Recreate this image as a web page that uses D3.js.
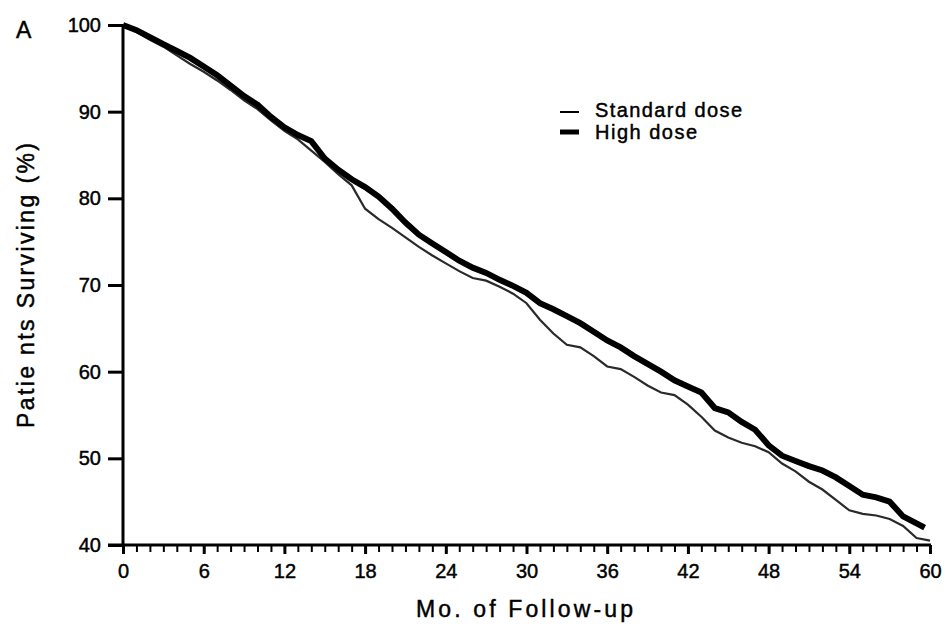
<!DOCTYPE html>
<html>
<head>
<meta charset="utf-8">
<script src="https://cdn.jsdelivr.net/npm/d3@7"></script>
<style>
  body { margin: 0; background: #fff; }
  text { font-family: "Liberation Sans", Arial, sans-serif; fill: #000; stroke: #000; stroke-width: 0.45px; }
</style>
</head>
<body>
<svg id="chart" width="946" height="627"></svg>
<script>
// survival curves (months, % surviving)
const monthsStandard = [0, 1, 2, 3, 4, 5, 6, 7, 8, 9, 10, 11, 12, 13, 14, 15, 16, 17, 18, 19, 20,
  21, 22, 23, 24, 25, 26, 27, 28, 29, 30, 31, 32, 33, 34, 35, 36, 37, 38, 39, 40,
  41, 42, 43, 44, 45, 46, 47, 48, 49, 50, 51, 52, 53, 54, 55, 56, 57, 58, 59, 60];
const standardDose = [100, 99.2, 98.3, 97.5, 96.5, 95.5, 94.6, 93.6, 92.5, 91.3, 90.3, 89.0, 87.8, 86.8, 85.5, 84.2, 82.8, 81.5, 78.8, 77.6, 76.6,
  75.5, 74.4, 73.4, 72.5, 71.6, 70.8, 70.5, 69.8, 69.0, 67.9, 66.0, 64.4, 63.1, 62.8, 61.8, 60.6, 60.3, 59.4, 58.4, 57.6,
  57.3, 56.2, 54.8, 53.2, 52.4, 51.8, 51.4, 50.7, 49.4, 48.5, 47.3, 46.4, 45.2, 44.0, 43.6, 43.4, 43.0, 42.2, 40.8, 40.5];

const monthsHigh = [0, 1, 2, 3, 4, 5, 6, 7, 8, 9, 10, 11, 12, 13, 14, 15, 16, 17, 18, 19, 20,
  21, 22, 23, 24, 25, 26, 27, 28, 29, 30, 31, 32, 33, 34, 35, 36, 37, 38, 39, 40,
  41, 42, 43, 44, 45, 46, 47, 48, 49, 50, 51, 52, 53, 54, 55, 56, 57, 58, 59, 59.6];
const highDose = [100, 99.4, 98.6, 97.8, 97.0, 96.2, 95.2, 94.2, 93.0, 91.8, 90.8, 89.4, 88.2, 87.3, 86.6, 84.6, 83.3, 82.2, 81.3, 80.2, 78.8,
  77.2, 75.8, 74.8, 73.8, 72.8, 72.0, 71.4, 70.6, 69.9, 69.1, 67.9, 67.2, 66.4, 65.6, 64.6, 63.6, 62.8, 61.8, 60.9, 60.0,
  59.0, 58.3, 57.6, 55.8, 55.3, 54.2, 53.3, 51.5, 50.3, 49.7, 49.1, 48.6, 47.8, 46.8, 45.8, 45.5, 45.0, 43.3, 42.5, 42.0];

const xTicks = [0, 6, 12, 18, 24, 30, 36, 42, 48, 54, 60];
const xMinorTicks = d3.range(0, 61);
const yTicks = [40, 50, 60, 70, 80, 90, 100];

const svg = d3.select("#chart");

const x = d3.scaleLinear().domain([0, 60]).range([123, 930]);
const y = d3.scaleLinear().domain([40, 100]).range([545, 25]);

// x axis: minor ticks, then major ticks with labels
svg.append("g")
  .attr("transform", `translate(0,${y(40)})`)
  .call(d3.axisBottom(x).tickValues(xMinorTicks).tickSize(7).tickFormat(""))
  .call(g => g.select(".domain").remove())
  .call(g => g.selectAll(".tick line").attr("stroke", "#000").attr("stroke-width", 2));

svg.append("g")
  .attr("transform", `translate(0,${y(40)})`)
  .call(d3.axisBottom(x).tickValues(xTicks).tickSize(9).tickPadding(10))
  .call(g => g.select(".domain").remove())
  .call(g => g.selectAll(".tick line").attr("stroke", "#000").attr("stroke-width", 3))
  .call(g => g.selectAll(".tick text").attr("font-size", 20).attr("font-family", null));

svg.append("line")
  .attr("x1", x(0) - 15).attr("x2", x(60) + 1)
  .attr("y1", y(40)).attr("y2", y(40))
  .attr("stroke", "#000").attr("stroke-width", 3);

// y axis
svg.append("g")
  .attr("transform", `translate(${x(0)},0)`)
  .call(d3.axisLeft(y).tickValues(yTicks).tickSize(15).tickPadding(7))
  .call(g => g.select(".domain").remove())
  .call(g => g.selectAll(".tick line").attr("stroke", "#000").attr("stroke-width", 3))
  .call(g => g.selectAll(".tick text").attr("font-size", 20).attr("font-family", null));

svg.append("line")
  .attr("x1", x(0)).attr("x2", x(0))
  .attr("y1", y(100)).attr("y2", y(40))
  .attr("stroke", "#000").attr("stroke-width", 3);

// curves
const line = d3.line().x(d => x(d[0])).y(d => y(d[1]));

svg.append("path")
  .datum(d3.zip(monthsStandard, standardDose))
  .attr("d", line)
  .attr("fill", "none")
  .attr("stroke", "#2a2a2a")
  .attr("stroke-width", 2.2);

svg.append("path")
  .datum(d3.zip(monthsHigh, highDose))
  .attr("d", line)
  .attr("fill", "none")
  .attr("stroke", "#000")
  .attr("stroke-width", 6);

// legend
svg.append("line").attr("x1", 560).attr("x2", 579).attr("y1", 112).attr("y2", 112)
  .attr("stroke", "#000").attr("stroke-width", 2);
svg.append("line").attr("x1", 560).attr("x2", 579).attr("y1", 132).attr("y2", 132)
  .attr("stroke", "#000").attr("stroke-width", 5);
svg.append("text").attr("x", 595).attr("y", 117).attr("font-size", 20)
  .attr("textLength", 147).attr("lengthAdjust", "spacing").text("Standard dose");
svg.append("text").attr("x", 595).attr("y", 139).attr("font-size", 20)
  .attr("textLength", 102).attr("lengthAdjust", "spacing").text("High dose");

// titles
svg.append("text").attr("x", 16).attr("y", 38).attr("font-size", 23).text("A");

svg.append("text")
  .attr("transform", "translate(34,285.5) rotate(-90)")
  .attr("text-anchor", "middle")
  .attr("font-size", 23)
  .attr("textLength", 285).attr("lengthAdjust", "spacing")
  .text("Patie nts Surviving (%)");

svg.append("text")
  .attr("x", 524.5).attr("y", 617)
  .attr("text-anchor", "middle")
  .attr("font-size", 23)
  .attr("textLength", 217).attr("lengthAdjust", "spacing")
  .text("Mo. of Follow-up");
</script>
</body>
</html>
